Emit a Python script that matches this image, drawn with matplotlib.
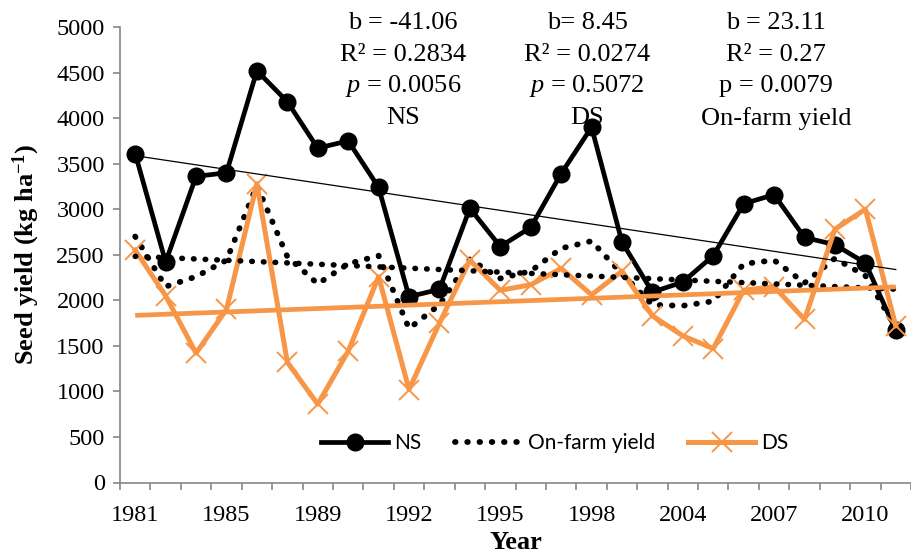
import numpy as np
import matplotlib.pyplot as plt

# Data (kg/ha), one value per category
years = [1981, 1982, 1984, 1985, 1986, 1988, 1989, 1990, 1991, 1992, 1993, 1994, 1995,
         1996, 1997, 1998, 2000, 2002, 2004, 2005, 2006, 2007, 2008, 2009, 2010, 2011]
ns = [3610, 2420, 3360, 3400, 4520, 4180, 3670, 3750, 3240, 2040, 2120, 3010, 2590,
      2800, 3390, 3900, 2640, 2090, 2200, 2490, 3060, 3160, 2690, 2610, 2410, 1670]
on_farm = [2700, 2150, 2260, 2440, 3260, 2480, 2180, 2400, 2490, 1690, 1950, 2450, 2240,
           2320, 2570, 2650, 2290, 1950, 1940, 1990, 2400, 2440, 2190, 2460, 2270, 1700]
ds = [2550, 2050, 1420, 1900, 3280, 1320, 860, 1440, 2260, 1020, 1750, 2440, 2110,
      2170, 2350, 2060, 2320, 1830, 1610, 1470, 2110, 2150, 1790, 2780, 3000, 1720]

stats_ns = ["b = -41.06", "R² = 0.2834", "$p$ = 0.0056", "NS"]
stats_ds = ["b= 8.45", "R² = 0.0274", "$p$ = 0.5072", "DS"]
stats_farm = ["b = 23.11", "R² = 0.27", "p = 0.0079", "On-farm yield"]

plt.rcParams['font.family'] = 'Liberation Serif'
plt.rcParams['mathtext.fontset'] = 'custom'
plt.rcParams['mathtext.rm'] = 'Liberation Serif'
plt.rcParams['mathtext.it'] = 'Liberation Serif:italic'
plt.rcParams['mathtext.bf'] = 'Liberation Serif:bold'

orange = '#F79646'
grey = '#868686'
dots = (0, (0.1, 2.0))

fig = plt.figure(figsize=(9.11, 5.58), dpi=100)
ax = fig.add_axes([120 / 911, 75.5 / 558, 791 / 911, 455.5 / 558])

x = np.arange(len(years))

ax.plot(x, ns, color='black', lw=3.4, marker='o', ms=12, zorder=3, label='NS')
ax.plot(x, on_farm, color='black', lw=4.2, ls=dots, dash_capstyle='round',
        zorder=4, label='On-farm yield')
ax.plot(x, ds, color=orange, lw=3.6, marker='x', ms=14, mew=1.4, zorder=5, label='DS')

# linear trendlines
def trend(vals):
    k, c = np.polyfit(x, vals, 1)
    return k * x + c

ax.plot(x, trend(ns), color='black', lw=0.9, zorder=6)
ax.plot(x, trend(on_farm), color='black', lw=4.0, ls=dots, dash_capstyle='round', zorder=6)
ax.plot(x, trend(ds), color=orange, lw=3.4, solid_capstyle='butt', zorder=6)

ax.set_xlim(-0.5, 25.27)
ax.set_ylim(0, 5000)
ax.set_yticks(np.arange(0, 5001, 500))
ax.set_xticks(np.arange(-0.5, len(years), 1))
ax.set_xticklabels([])
ax.set_xticks(x[::3], minor=True)
ax.set_xticklabels([str(y) for y in years[::3]], minor=True)

for s in ['top', 'right']:
    ax.spines[s].set_visible(False)
for s in ['left', 'bottom']:
    ax.spines[s].set_color(grey)
    ax.spines[s].set_linewidth(1.2)
ax.tick_params(axis='both', which='major', color=grey, width=1.2, length=5,
               labelsize=17.5)
ax.tick_params(axis='y', pad=6)
ax.tick_params(axis='x', which='minor', length=0, labelsize=17.5, pad=16)

ax.set_xlabel('Year', fontsize=19, fontweight='bold', labelpad=4)
ax.set_ylabel('Seed yield (kg ha$^{\\mathbf{-1}}$)', fontsize=19, fontweight='bold',
              labelpad=10)

leg = ax.legend(loc='center', bbox_to_anchor=(555 / 911, 115 / 558),
                bbox_transform=fig.transFigure, ncol=3, frameon=False,
                handlelength=3.2, columnspacing=1.6, handletextpad=0.3,
                prop={'family': 'Lato', 'size': 15})

# regression statistics
for cx, lines in [(403, stats_ns), (587, stats_ds), (776, stats_farm)]:
    for i, t in enumerate(lines):
        fig.text(cx / 911, 1 - (23 + 31.7 * i) / 558, t, ha='center', va='center',
                 fontsize=19)

fig.savefig('out.png', dpi=100)
